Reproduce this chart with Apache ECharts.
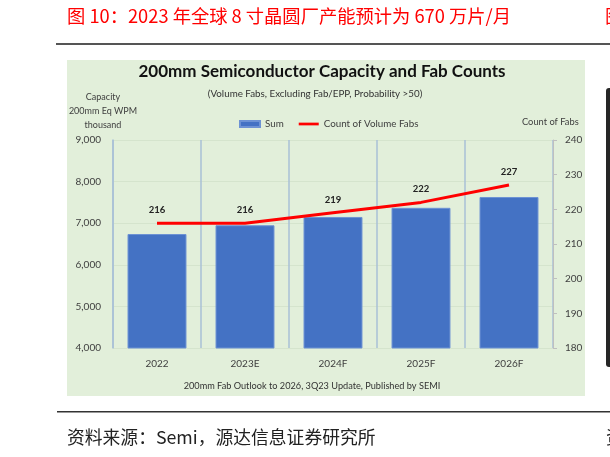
<!DOCTYPE html>
<html lang="zh-cn">
<head>
    <meta charset="utf-8" />
    <title>200mm Semiconductor Capacity and Fab Counts</title>
    <script src="https://cdn.jsdelivr.net/npm/echarts@6/dist/echarts.min.js"></script>
    <style>
        html, body { margin: 0; padding: 0; background: #ffffff; }
        #chart { width: 610px; height: 457px; }
    </style>
</head>
<body>
<div id="chart"></div>
<script>
    // 数据
    var categories = ['2022', '2023E', '2024F', '2025F', '2026F'];
    var capacity = [6740, 6950, 7150, 7370, 7630];   // 千片/月 (200mm eq)
    var fabCounts = [216, 216, 219, 222, 227];
    var leftTicks = [4000, 9000, 1000];   // min, max, interval
    var rightTicks = [180, 240, 10];

    var latin = 'Lato, "Open Sans", sans-serif';
    var cjk = '"Noto Sans CJK SC", sans-serif';

    var myChart = echarts.init(document.getElementById('chart'));

    var option = {
        backgroundColor: '#ffffff',
        animation: false,
        graphic: [
            // 绿色图片底
            { type: 'rect', z: -10, shape: { x: 67, y: 60, width: 518, height: 336 }, style: { fill: '#e2efda' } },
            // 页面横线
            { type: 'rect', shape: { x: 56, y: 43, width: 554, height: 2 }, style: { fill: '#555555' } },
            { type: 'rect', shape: { x: 57, y: 411, width: 553, height: 1.5 }, style: { fill: '#333333' } },
            // 右侧黑条
            { type: 'rect', shape: { x: 606, y: 88, width: 8, height: 279, r: 3 }, style: { fill: '#262626' } }
        ],
        title: [
            { text: '图 10：2023 年全球 8 寸晶圆厂产能预计为 670 万片/月', left: 67, top: 7, padding: 0,
              textStyle: { fontFamily: cjk, fontSize: 18.3, fontWeight: 'normal', color: '#ff0000' } },
            { text: '图', left: 605, top: 7, padding: 0,
              textStyle: { fontFamily: cjk, fontSize: 18.3, fontWeight: 'normal', color: '#ff0000' } },
            { text: '200mm Semiconductor Capacity and Fab Counts', left: 322, textAlign: 'center', top: 63, padding: 0,
              textStyle: { fontFamily: latin, fontSize: 17, fontWeight: 'bold', color: '#111111' } },
            { text: '(Volume Fabs, Excluding Fab/EPP, Probability >50)', left: 315, textAlign: 'center', top: 89, padding: 0,
              textStyle: { fontFamily: latin, fontSize: 9.8, fontWeight: 'normal', color: '#333333' } },
            { text: 'Capacity\n200mm Eq WPM\nthousand', left: 103, textAlign: 'center', top: 90, padding: 0,
              textStyle: { fontFamily: latin, fontSize: 9, fontWeight: 'normal', color: '#404040', lineHeight: 14 } },
            { text: 'Count of Fabs', left: 522, top: 117, padding: 0,
              textStyle: { fontFamily: latin, fontSize: 9.3, fontWeight: 'normal', color: '#404040' } },
            { text: '200mm Fab Outlook to 2026, 3Q23 Update, Published by SEMI', left: 312, textAlign: 'center', top: 382, padding: 0,
              textStyle: { fontFamily: latin, fontSize: 9.2, fontWeight: 'normal', color: '#333333' } },
            { text: '资料来源：Semi，源达信息证券研究所', left: 67, top: 428, padding: 0,
              textStyle: { fontFamily: cjk, fontSize: 17.8, fontWeight: 'normal', color: '#222222' } },
            { text: '资', left: 606, top: 428, padding: 0,
              textStyle: { fontFamily: cjk, fontSize: 17.8, fontWeight: 'normal', color: '#222222' } }
        ],
        legend: {
            left: 239, top: 119, padding: 0, itemGap: 15,
            textStyle: { fontFamily: latin, fontSize: 9.8, color: '#404040' },
            data: [
                { name: 'Sum', icon: 'rect', itemStyle: { color: '#4472c4' } },
                { name: 'Count of Volume Fabs', icon: 'path://M0,0H22V3H0Z', itemStyle: { color: '#ff0000' } }
            ],
            itemWidth: 20, itemHeight: 6
        },
        grid: { left: 113, right: 57, top: 140, bottom: 109 },
        xAxis: {
            type: 'category',
            data: categories,
            axisLine: { show: false },
            axisTick: { show: false },
            axisLabel: { fontFamily: latin, fontSize: 10, color: '#404040', margin: 11 },
            splitLine: { show: true, interval: 0, lineStyle: { color: '#a9c0d6', width: 1.5 } }
        },
        yAxis: [
            {
                type: 'value', min: leftTicks[0], max: leftTicks[1], interval: leftTicks[2],
                axisLine: { show: true, lineStyle: { color: '#a9c0d6', width: 1.5 } },
                axisTick: { show: false },
                axisLabel: {
                    fontFamily: latin, fontSize: 10, color: '#404040', margin: 12,
                    formatter: function (v) { return v.toLocaleString('en-US'); }
                },
                splitLine: { show: true, lineStyle: { color: '#d5e4cd', width: 1 } }
            },
            {
                type: 'value', min: rightTicks[0], max: rightTicks[1], interval: rightTicks[2],
                axisLine: { show: true, lineStyle: { color: '#bfbfbf', width: 1 } },
                axisTick: { show: true, length: 4, lineStyle: { color: '#bfbfbf' } },
                axisLabel: { fontFamily: latin, fontSize: 10, color: '#404040', margin: 12 },
                splitLine: { show: false }
            }
        ],
        series: [
            {
                name: 'Sum', type: 'bar', yAxisIndex: 0,
                data: capacity, barWidth: '67%',
                itemStyle: { color: '#4472c4', borderColor: '#6d92d4', borderWidth: 1 }
            },
            {
                name: 'Count of Volume Fabs', type: 'line', yAxisIndex: 1,
                data: fabCounts, symbol: 'circle', symbolSize: 0.1, showSymbol: true, z: 5,
                lineStyle: { color: '#ff0000', width: 3 },
                itemStyle: { color: '#ff0000' },
                label: {
                    show: true, position: 'top', distance: 8,
                    fontFamily: latin, fontSize: 9.5, fontWeight: 'bold', color: '#222222'
                }
            }
        ]
    };

    myChart.setOption(option);
</script>
</body>
</html>
